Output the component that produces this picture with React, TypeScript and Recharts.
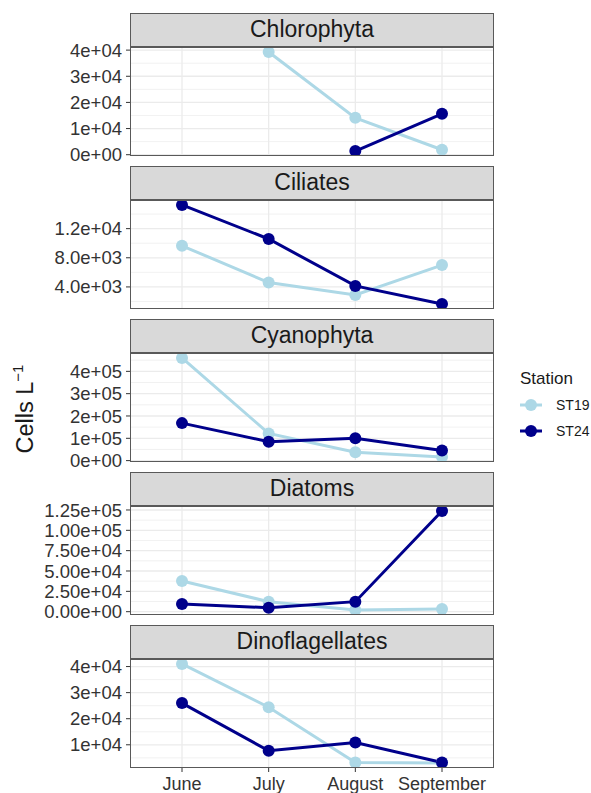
import React from "react";
import { LineChart, Line, XAxis, YAxis, CartesianGrid } from "recharts";

const months = ["June", "July", "August", "September"];
const monthPos = [1, 2, 3, 4];
const stations = ["ST19", "ST24"];

const chloroST19 = [null, 39300, 14100, 1900];
const chloroST24 = [null, null, 1400, 15650];
const chloroTicks = [0, 10000, 20000, 30000, 40000];
const chloroLabels = ["0e+00", "1e+04", "2e+04", "3e+04", "4e+04"];
const chloroMinor = [5000, 15000, 25000, 35000];

const cilST19 = [9650, 4600, 2900, 7000];
const cilST24 = [15250, 10580, 4140, 1650];
const cilTicks = [4000, 8000, 12000];
const cilLabels = ["4.0e+03", "8.0e+03", "1.2e+04"];
const cilMinor = [2000, 6000, 10000, 14000];

const cyanST19 = [460000, 122000, 37700, 16000];
const cyanST24 = [168000, 85000, 100000, 45000];
const cyanTicks = [0, 100000, 200000, 300000, 400000];
const cyanLabels = ["0e+00", "1e+05", "2e+05", "3e+05", "4e+05"];
const cyanMinor = [50000, 150000, 250000, 350000, 450000];

const diaST19 = [37800, 12300, 2000, 3300];
const diaST24 = [9500, 4900, 12300, 123800];
const diaTicks = [0, 25000, 50000, 75000, 100000, 125000];
const diaLabels = ["0.00e+00", "2.50e+04", "5.00e+04", "7.50e+04", "1.00e+05", "1.25e+05"];
const diaMinor = [12500, 37500, 62500, 87500, 112500];

const dinoST19 = [41000, 24400, 3200, 3000];
const dinoST24 = [26000, 7700, 10900, 3200];
const dinoTicks = [10000, 20000, 30000, 40000];
const dinoLabels = ["1e+04", "2e+04", "3e+04", "4e+04"];
const dinoMinor = [5000, 15000, 25000, 35000];

const panels = [
  { title: "Chlorophyta", st19: chloroST19, st24: chloroST24, ticks: chloroTicks, labels: chloroLabels, minor: chloroMinor },
  { title: "Ciliates", st19: cilST19, st24: cilST24, ticks: cilTicks, labels: cilLabels, minor: cilMinor },
  { title: "Cyanophyta", st19: cyanST19, st24: cyanST24, ticks: cyanTicks, labels: cyanLabels, minor: cyanMinor },
  { title: "Diatoms", st19: diaST19, st24: diaST24, ticks: diaTicks, labels: diaLabels, minor: diaMinor },
  { title: "Dinoflagellates", st19: dinoST19, st24: dinoST24, ticks: dinoTicks, labels: dinoLabels, minor: dinoMinor },
];

const COLORS: Record<string, string> = { ST19: "#ADD8E6", ST24: "#00008B" };
const FONT = "'Liberation Sans', Arial, Helvetica, sans-serif";
const STRIP_TOPS = [13, 166, 319, 472, 625];
const STRIP_H = 34;
const PLOT_H = 109;
const PLOT_LEFT = 130;
const PLOT_RIGHT = 494;
const PAD = 12;
const BORDER = "#595959";

function Panel({ p, idx, last }: { p: any; idx: number; last: boolean }) {
  const data = monthPos.map((x, i) => ({ x, ST19: p.st19[i], ST24: p.st24[i] }));
  const vals = [...p.st19, ...p.st24].filter((v: any) => v !== null) as number[];
  const lo = Math.min(...vals);
  const hi = Math.max(...vals);
  const pad = (hi - lo) * 0.05;
  const domain: [number, number] = [lo - pad, hi + pad];
  const top = STRIP_TOPS[idx];
  const axisH = last ? 26 : 0;
  const bottomPad = last ? 0 : PAD;
  const chartH = PAD + PLOT_H + axisH + bottomPad;
  return (
    <>
      <div
        style={{
          position: "absolute",
          left: PLOT_LEFT,
          top,
          width: PLOT_RIGHT - PLOT_LEFT,
          height: STRIP_H,
          boxSizing: "border-box",
          background: "#D9D9D9",
          border: `1.5px solid ${BORDER}`,
          color: "#1A1A1A",
          fontSize: 23,
          lineHeight: `${STRIP_H - 3}px`,
          textAlign: "center",
        }}
      >
        {p.title}
      </div>
      <div style={{ position: "absolute", left: 0, top: top + STRIP_H - PAD, width: 591, height: chartH }}>
        <LineChart
          width={591}
          height={chartH}
          data={data}
          margin={{ top: PAD, right: 591 - PLOT_RIGHT, bottom: bottomPad, left: 0 }}
          style={{ fontFamily: FONT }}
        >
          <CartesianGrid horizontalValues={p.minor} vertical={false} stroke="#EBEBEB" strokeWidth={0.7} />
          <CartesianGrid horizontalValues={p.ticks} verticalValues={monthPos} stroke="#EBEBEB" strokeWidth={1.3} />
          <XAxis
            type="number"
            dataKey="x"
            domain={[0.4, 4.6]}
            ticks={monthPos}
            interval={0}
            allowDataOverflow
            hide={!last}
            height={axisH}
            axisLine={false}
            tickLine={{ stroke: "#333333" }}
            tickSize={4}
            tickMargin={5}
            tick={{ fontSize: 18, fill: "#333333" }}
            tickFormatter={(v: number) => months[v - 1]}
          />
          <YAxis
            type="number"
            domain={domain}
            ticks={p.ticks}
            interval={0}
            allowDataOverflow
            width={PLOT_LEFT}
            axisLine={false}
            tickLine={{ stroke: "#333333" }}
            tickSize={4}
            tickMargin={4}
            tick={{ fontSize: 18.5, fill: "#333333" }}
            tickFormatter={(v: number) => p.labels[p.ticks.indexOf(v)]}
          />
          {stations.map((s) => (
            <Line
              key={s}
              dataKey={s}
              stroke={COLORS[s]}
              strokeWidth={3}
              dot={{ r: 6, fill: COLORS[s], stroke: COLORS[s], strokeWidth: 0 }}
              activeDot={false}
              isAnimationActive={false}
            />
          ))}
        </LineChart>
        <div
          style={{
            position: "absolute",
            left: PLOT_LEFT,
            top: PAD,
            width: PLOT_RIGHT - PLOT_LEFT,
            height: PLOT_H,
            boxSizing: "border-box",
            border: `1.5px solid ${BORDER}`,
            pointerEvents: "none",
          }}
        />
      </div>
    </>
  );
}

export default function App() {
  return (
    <div
      style={{
        position: "absolute",
        left: 0,
        top: 0,
        width: 591,
        height: 793,
        background: "#FFFFFF",
        fontFamily: FONT,
        overflow: "hidden",
      }}
    >
      {panels.map((p, i) => (
        <Panel key={p.title} p={p} idx={i} last={i === panels.length - 1} />
      ))}
      <svg width={591} height={793} style={{ position: "absolute", left: 0, top: 0, pointerEvents: "none" }}>
        <text
          transform="translate(33,409) rotate(-90)"
          textAnchor="middle"
          fontSize={23.5}
          fill="#1A1A1A"
          fontFamily={FONT}
        >
          Cells L
          <tspan dy={-10} fontSize={15}>
            {"\u2212"}1
          </tspan>
        </text>
        <text x={520} y={384} fontSize={17} fill="#1A1A1A" fontFamily={FONT}>
          Station
        </text>
        {stations.map((s, i) => {
          const cy = 405 + i * 26;
          return (
            <g key={s}>
              <line x1={520} x2={542} y1={cy} y2={cy} stroke={COLORS[s]} strokeWidth={3} />
              <circle cx={531} cy={cy} r={6} fill={COLORS[s]} />
              <text x={556} y={cy} dy="0.35em" fontSize={14} fill="#1A1A1A" fontFamily={FONT}>
                {s}
              </text>
            </g>
          );
        })}
      </svg>
    </div>
  );
}
